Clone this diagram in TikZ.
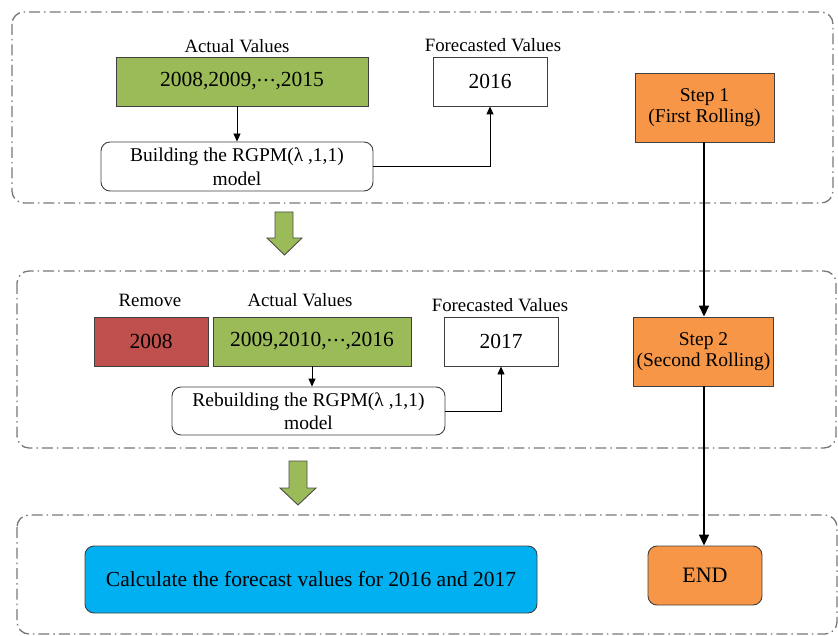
\documentclass[tikz,border=0pt]{standalone}
\usepackage{fontspec}
\setmainfont{Liberation Serif}
\usetikzlibrary{arrows.meta,calc}
\definecolor{valgreen}{RGB}{155,187,89}
\definecolor{remred}{RGB}{192,80,77}
\definecolor{steporange}{RGB}{247,150,70}
\definecolor{calcblue}{RGB}{0,176,240}
\definecolor{framegray}{RGB}{120,120,120}
% compact midline ellipsis
\newcommand{\middots}{\raisebox{0.24em}{.\kern0.06em.\kern0.06em.}}
\tikzset{
  frame/.style={draw=framegray, line width=1.3pt, rounded corners=12pt,
    dash pattern=on 11pt off 4pt on 1.5pt off 4pt},
  box/.style={draw=black!75, line width=0.9pt, inner sep=0pt, align=center,
    font=\fontsize{21.5}{24}\selectfont},
  valbox/.style={box, fill=valgreen},
  rembox/.style={box, fill=remred},
  outbox/.style={box, fill=white},
  stepbox/.style={draw=black!75, line width=0.9pt, fill=steporange, inner sep=0pt,
    align=center, font=\fontsize{19.5}{21.5}\selectfont},
  modelbox/.style={draw=black!75, line width=0.9pt, fill=white, rounded corners=9pt,
    inner sep=0pt, align=center, font=\fontsize{19.5}{23.5}\selectfont},
  caption/.style={font=\fontsize{18.8}{22}\selectfont},
  link/.style={draw=black, line width=0.9pt, -{Triangle[length=8pt,width=7pt]}},
  steplink/.style={draw=black, line width=1.6pt, -{Triangle[length=11pt,width=10pt]}},
  bigarrow/.style={draw=black!70, line width=0.9pt, fill=valgreen, line join=miter},
}
\begin{document}
\begin{tikzpicture}[x=1pt,y=-1pt]
\useasboundingbox (0,0) rectangle (838,636);

% dash-dot frames for the three stages
\draw[frame] (12,12) rectangle (833,203);
\draw[frame] (17,271) rectangle (836,448);
\draw[frame] (17,515) rectangle (837,634);

% stage 1: first rolling
\node[caption] (av1) at (237,46) {Actual Values};
\node[caption] (fv1) at (493,45) {Forecasted Values};
\node[valbox, minimum width=252pt, minimum height=49pt] (g1) at (242,81.5) {2008,2009,\middots,2015};
\node[outbox, minimum width=114pt, minimum height=49pt] (f1) at (490,81.5) {2016};
\node[modelbox, minimum width=272pt, minimum height=49pt] (m1) at (237,166.5) {Building the RGPM(λ ,1,1)\\model};
\node[stepbox, minimum width=139pt, minimum height=69pt] (s1) at (704.5,107.5) {Step 1\\(First Rolling)};
\draw[link] (g1.south -| m1.north) -- (m1.north);
\draw[link] (m1.east) -| (f1.south);

% stage 2: second rolling
\node[caption] (rm) at (150,300) {Remove};
\node[caption] (av2) at (300,300) {Actual Values};
\node[caption] (fv2) at (500,305) {Forecasted Values};
\node[rembox, minimum width=114pt, minimum height=49pt] (r2) at (151,341.5) {2008};
\node[valbox, minimum width=198pt, minimum height=49pt] (g2) at (312,341.5) {2009,2010,\middots,2016};
\node[outbox, minimum width=114pt, minimum height=49pt] (f2) at (501,341.5) {2017};
\node[modelbox, minimum width=273pt, minimum height=48pt] (m2) at (308.5,411) {Rebuilding the RGPM(λ ,1,1)\\model};
\node[stepbox, minimum width=140pt, minimum height=69pt] (s2) at (703.5,351.5) {Step 2\\(Second Rolling)};
\draw[link] (g2.south) -- (g2.south |- m2.north);
\draw[link] (m2.east) -| (f2.south);

% stage 3: result
\node[modelbox, fill=calcblue, minimum width=452pt, minimum height=67pt, font=\fontsize{21.5}{24}\selectfont] (c3) at (311,579.5) {Calculate the forecast values for 2016 and 2017};
\node[modelbox, fill=steporange, minimum width=114pt, minimum height=59pt, font=\fontsize{22}{24}\selectfont] (e3) at (705,575.5) {END};

% rolling sequence
\draw[steplink] (s1.south -| 704,0) -- (s2.north -| 704,0);
\draw[steplink] (s2.south -| 704,0) -- (e3.north -| 704,0);

% block arrows between stages
\draw[bigarrow] (275,212) -- (293,212) -- (293,238) -- (302,238) -- (284.5,255) -- (267,238) -- (275,238) -- cycle;
\draw[bigarrow] (289,461) -- (307,461) -- (307,488) -- (316,488) -- (298,505) -- (280,488) -- (289,488) -- cycle;
\end{tikzpicture}
\end{document}
